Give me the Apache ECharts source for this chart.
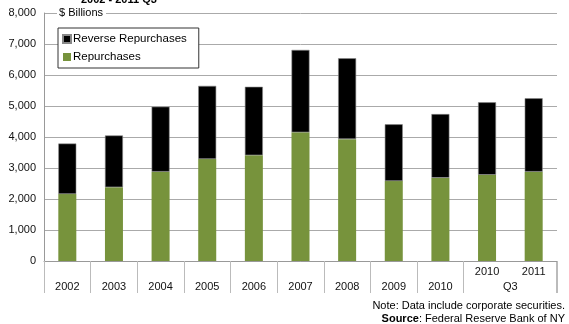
<!DOCTYPE html>
<html>
<head>
<meta charset="utf-8">
<script src="https://cdn.jsdelivr.net/npm/echarts@6/dist/echarts.min.js"></script>
<style>
  html, body { margin: 0; padding: 0; background: #fff; }
  #chart { width: 569px; height: 324px; }
</style>
</head>
<body>
<div id="chart"></div>
<script>
// Categories: annual figures, then two Q3 year-to-date points
const categories = ['2002', '2003', '2004', '2005', '2006', '2007', '2008', '2009', '2010', '2010', '2011'];
const groupLabel = 'Q3';          // shared label under the last two categories
const groupStart = 9;             // index of first category in the Q3 group

// $ Billions
const repurchases        = [2160, 2380, 2880, 3290, 3410, 4150, 3930, 2580, 2680, 2780, 2880];
const reverseRepurchases = [1630, 1670, 2100, 2360, 2210, 2660, 2610, 1830, 2060, 2340, 2370];

const yTicks = { min: 0, max: 8000, interval: 1000 };

const FONT = '"Liberation Sans", Arial, sans-serif';
const GREEN = '#77933c';
const TICK_LEN = 32;

const chart = echarts.init(document.getElementById('chart'), null, { renderer: 'canvas' });

const option = {
  animation: false,
  textStyle: { fontFamily: FONT },
  title: {
    text: '2002 - 2011 Q3',
    left: 76,
    top: -11,
    textStyle: { fontFamily: FONT, fontSize: 11, fontWeight: 'bold', color: '#000' }
  },
  legend: {
    orient: 'vertical',
    left: 58,
    top: 28,
    data: ['Reverse Repurchases', 'Repurchases'],
    icon: 'rect',
    itemWidth: 8,
    itemHeight: 8,
    itemGap: 6,
    padding: [5, 12, 5, 4],
    backgroundColor: '#fff',
    borderColor: '#333',
    borderWidth: 1,
    textStyle: { fontFamily: FONT, fontSize: 11.5, color: '#000', padding: [0, 0, 0, -3] }
  },
  grid: { left: 44, right: 12, top: 13, bottom: 63, containLabel: false },
  xAxis: {
    type: 'category',
    data: categories,
    boundaryGap: true,
    axisLine: { lineStyle: { color: '#999', width: 1 } },
    axisTick: {
      show: true,
      length: TICK_LEN,
      lineStyle: { color: '#bbb' },
      interval: function (index) { return index !== groupStart + 1; }
    },
    axisLabel: {
      interval: 0,
      margin: 3,
      fontFamily: FONT,
      fontSize: 11,
      color: '#111',
      lineHeight: 15,
      formatter: function (value, index) {
        return index < groupStart ? '\n' + value : value;
      }
    }
  },
  yAxis: {
    type: 'value',
    min: yTicks.min,
    max: yTicks.max,
    interval: yTicks.interval,
    name: '{gap|}{t|$ Billions}',
    nameLocation: 'end',
    nameGap: 0,
    nameTextStyle: {
      align: 'left',
      verticalAlign: 'middle',
      rich: {
        gap: { width: 13 },
        t: {
          fontFamily: FONT, fontSize: 11, color: '#000',
          backgroundColor: '#fff', padding: [2, 3, 2, 2]
        }
      }
    },
    axisLine: { show: true, lineStyle: { color: '#999' } },
    axisTick: { show: false },
    axisLabel: {
      fontFamily: FONT, fontSize: 11, color: '#111', margin: 8,
      formatter: function (v) { return v.toLocaleString('en-US'); }
    },
    splitLine: { show: true, lineStyle: { color: '#aaa', width: 1 } }
  },
  series: [
    {
      name: 'Repurchases',
      type: 'bar',
      stack: 'total',
      data: repurchases,
      barWidth: 18,
      itemStyle: { color: GREEN }
    },
    {
      name: 'Reverse Repurchases',
      type: 'bar',
      stack: 'total',
      data: reverseRepurchases,
      barWidth: 18,
      itemStyle: { color: '#000', borderColor: '#888', borderWidth: 0.6 }
    }
  ],
  graphic: [
    {
      id: 'note',
      type: 'text',
      right: 4,
      top: 300,
      style: {
        text: 'Note: Data include corporate securities.',
        font: '11px ' + FONT,
        fill: '#000'
      }
    },
    {
      id: 'source',
      type: 'text',
      right: 4,
      top: 313,
      style: {
        text: '{b|Source}: Federal Reserve Bank of NY',
        font: '11px ' + FONT,
        fill: '#000',
        rich: { b: { fontWeight: 'bold', fontFamily: FONT, fontSize: 11 } }
      }
    }
  ]
};

chart.setOption(option);

// Shared group label centred under the last two categories, plus the
// closing tick at the right end of the category axis
const x0 = chart.convertToPixel({ xAxisIndex: 0 }, groupStart);
const x1 = chart.convertToPixel({ xAxisIndex: 0 }, groupStart + 1);
const y0 = chart.convertToPixel({ yAxisIndex: 0 }, 0);
const band = x1 - x0;
const xEnd = Math.round(x1 + band / 2) - 0.5;
chart.setOption({
  graphic: [
    {
      id: 'groupLabel',
      type: 'text',
      x: (x0 + x1) / 2,
      y: y0 + 3 + 15 + 7.5,
      style: {
        text: groupLabel,
        font: '11px ' + FONT,
        fill: '#111',
        align: 'center',
        verticalAlign: 'middle'
      }
    },
    {
      id: 'endTick',
      type: 'line',
      shape: { x1: xEnd, y1: y0, x2: xEnd, y2: y0 + TICK_LEN },
      style: { stroke: '#bbb', lineWidth: 1 }
    }
  ]
});
</script>
</body>
</html>
